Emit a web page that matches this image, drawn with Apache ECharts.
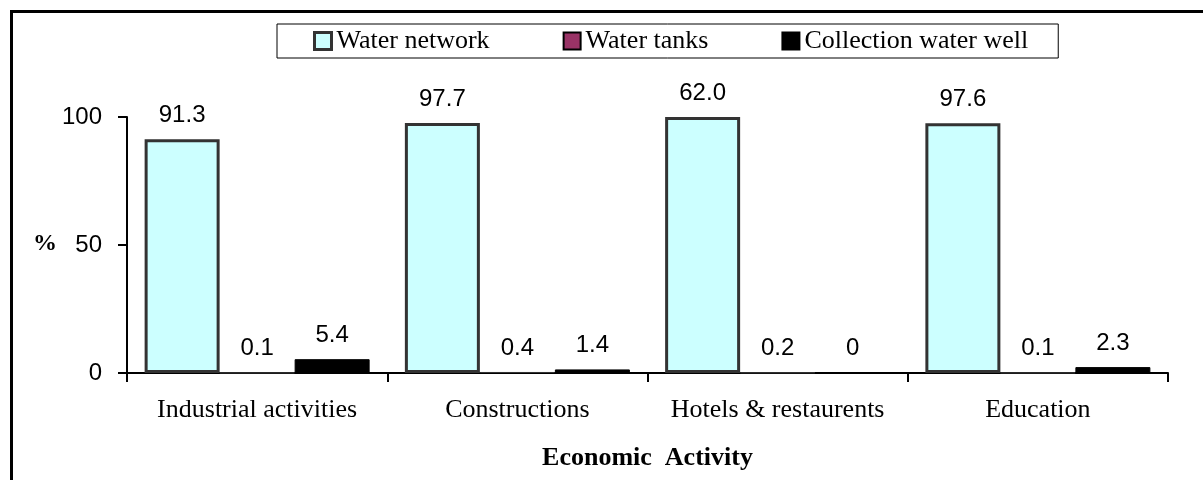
<!DOCTYPE html>
<html>
<head>
<meta charset="utf-8">
<script src="https://cdn.jsdelivr.net/npm/echarts@6/dist/echarts.min.js"></script>
<style>
  html, body { margin: 0; padding: 0; background: #fff; }
  #main { width: 1203px; height: 480px; }
</style>
</head>
<body>
<div id="main"></div>
<script>
// data
var categories = ['Industrial activities', 'Constructions', 'Hotels & restaurents', 'Education'];
var seriesNames = ['Water network', 'Water tanks', 'Collection water well'];
// bar heights as drawn
var waterNetwork = [91.3, 97.7, 100, 97.6];
var waterTanks = [0.1, 0.4, 0.2, 0.1];
var collectionWell = [5.4, 1.4, 0, 2.3];
// printed labels (hotels bar is drawn at 100 but labelled 62.0)
var waterNetworkLabels = ['91.3', '97.7', '62.0', '97.6'];
var waterTanksLabels = ['0.1', '0.4', '0.2', '0.1'];
var collectionWellLabels = ['5.4', '1.4', '0', '2.3'];
var yTicks = [0, 50, 100];

var chartDom = document.getElementById('main');
var myChart = echarts.init(chartDom, null, { renderer: 'canvas' });
var option;

function barLabel(texts) {
  return {
    show: true,
    position: 'top',
    distance: 12,
    fontFamily: 'Liberation Sans',
    fontSize: 24,
    color: '#000',
    formatter: function (p) { return texts[p.dataIndex]; }
  };
}

option = {
  animation: false,
  backgroundColor: '#fff',
  textStyle: { fontFamily: 'Liberation Serif' },
  graphic: [
    {
      type: 'rect',
      shape: { x: 11.5, y: 11.5, width: 1400, height: 700 },
      style: { fill: 'none', stroke: '#000', lineWidth: 3 },
      silent: true
    },
    {
      type: 'text',
      left: 33,
      top: 232,
      style: { text: '%', font: 'bold 24px "Liberation Serif"', fill: '#000' }
    }
  ],
  legend: {
    left: 277,
    top: 24,
    padding: [4, 30, 4, 36],
    itemGap: 73,
    itemWidth: 17,
    itemHeight: 17,
    icon: 'rect',
    borderColor: '#000',
    borderWidth: 1,
    textStyle: { fontFamily: 'Liberation Serif', fontSize: 26, color: '#000' },
    data: [
      { name: seriesNames[0], itemStyle: { borderColor: '#333333', borderWidth: 3 } },
      { name: seriesNames[1], itemStyle: { borderColor: '#000000', borderWidth: 2 } },
      { name: seriesNames[2] }
    ]
  },
  grid: {
    left: 127,
    right: 35,
    top: 117,
    bottom: 107,
    containLabel: false
  },
  xAxis: {
    type: 'category',
    data: categories,
    name: 'Economic  Activity',
    nameLocation: 'middle',
    nameGap: 72,
    nameTextStyle: { fontFamily: 'Liberation Serif', fontSize: 26, fontWeight: 'bold', color: '#000' },
    axisLine: { lineStyle: { color: '#000', width: 2 } },
    axisTick: { show: true, interval: 0, length: 9, alignWithLabel: false, lineStyle: { color: '#000', width: 2 } },
    axisLabel: { interval: 0, margin: 24, fontFamily: 'Liberation Serif', fontSize: 26, color: '#000' },
    splitLine: { show: false }
  },
  yAxis: {
    type: 'value',
    min: yTicks[0],
    max: yTicks[yTicks.length - 1],
    interval: yTicks[1] - yTicks[0],
    axisLine: { show: true, lineStyle: { color: '#000', width: 2 } },
    axisTick: { show: true, length: 9, lineStyle: { color: '#000', width: 2 } },
    axisLabel: { margin: 25, fontFamily: 'Liberation Sans', fontSize: 24, color: '#000' },
    splitLine: { show: false }
  },
  series: [
    {
      name: seriesNames[0],
      type: 'bar',
      data: waterNetwork,
      barWidth: 75,
      barGap: '0%',
      itemStyle: { color: '#ccffff', borderColor: '#333333', borderWidth: 3 },
      label: barLabel(waterNetworkLabels)
    },
    {
      name: seriesNames[1],
      type: 'bar',
      data: waterTanks,
      barWidth: 75,
      barGap: '0%',
      itemStyle: { color: '#993366', borderColor: '#333333', borderWidth: 1 },
      label: barLabel(waterTanksLabels)
    },
    {
      name: seriesNames[2],
      type: 'bar',
      data: collectionWell,
      barWidth: 75,
      barGap: '0%',
      itemStyle: { color: '#000000', borderColor: '#000000', borderWidth: 1 },
      label: barLabel(collectionWellLabels)
    }
  ]
};

option && myChart.setOption(option);
</script>
</body>
</html>
